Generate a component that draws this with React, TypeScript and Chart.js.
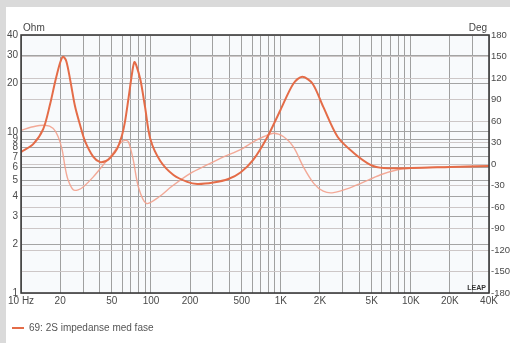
import React, { useEffect, useRef } from "react";
import { Chart, registerables } from "chart.js";
Chart.register(...registerables);

// Impedance magnitude (Hz, Ohm)
const impFreq = [10, 12.4, 14.8, 16.7, 18.3, 20, 21.1, 22.3, 23.9, 26, 28.5, 31, 36, 40.6, 45, 48.6, 55, 60, 63, 67, 72, 74.5, 77, 83, 90, 99, 118, 149, 190, 227, 302, 394, 489, 612, 787, 993, 1250, 1460, 1750, 2120, 2740, 3640, 4890, 6200, 10000, 20000, 40000];
const impOhm = [7.5, 8.4, 10.4, 14.8, 20.5, 27, 29.3, 27.5, 21, 14.5, 11, 8.8, 7.0, 6.5, 6.6, 6.9, 7.9, 9.6, 11.5, 16, 24, 27.2, 26, 21, 14.3, 9.0, 6.6, 5.4, 4.9, 4.75, 4.85, 5.1, 5.6, 6.7, 9.3, 13.7, 20, 22, 20, 14.3, 9.3, 7.4, 6.25, 5.97, 5.97, 6.06, 6.15];

// Phase (Hz, degrees)
const phaseFreq = [10, 12.4, 15.3, 17.6, 19.3, 20.7, 21.8, 23, 25.2, 27.5, 30.1, 36, 43, 51, 58, 63, 67, 73, 80, 92, 115, 145, 201, 272, 362, 489, 612, 735, 880, 1050, 1250, 1490, 1790, 2120, 2540, 3430, 4120, 5860, 7920, 10000, 20000, 40000];
const phaseDeg = [47, 52, 54, 50, 38, 20, -4, -22, -36, -36, -32, -18, -1, 15, 29, 33, 31, 6, -32, -55, -46, -31, -13, -1, 10, 20, 31, 38, 43, 38, 24, -4, -27, -38, -40, -33, -27, -15, -8, -6, -4, -3];

// Axis ticks
const ohmTicks = [1, 2, 3, 4, 5, 6, 7, 8, 9, 10, 20, 30, 40];
const degTicks = [-180, -150, -120, -90, -60, -30, 0, 30, 60, 90, 120, 150, 180];
const freqGrid = [10, 20, 30, 40, 50, 60, 70, 80, 90, 100, 200, 300, 400, 500, 600, 700, 800, 900, 1000, 2000, 3000, 4000, 5000, 6000, 7000, 8000, 9000, 10000, 20000, 30000, 40000];
const freqLabelValues = [10, 20, 50, 100, 200, 500, 1000, 2000, 5000, 10000, 20000, 40000];
const freqLabelTexts = ["10 Hz", "20", "50", "100", "200", "500", "1K", "2K", "5K", "10K", "20K", "40K"];

const legendText = "69: 2S impedanse med fase";
const FONT = '"Liberation Sans", Arial, sans-serif';

const decorPlugin = {
  id: "decor",
  beforeDraw(chart: any) {
    const { ctx, chartArea: a } = chart;
    ctx.save();
    ctx.fillStyle = "#f8fafc";
    ctx.fillRect(a.left, a.top, a.right - a.left, a.bottom - a.top);
    ctx.restore();
  },
  afterDraw(chart: any) {
    const { ctx, chartArea: a } = chart;
    ctx.save();
    ctx.strokeStyle = "#3a3a3a";
    ctx.lineWidth = 1.6;
    ctx.strokeRect(a.left, a.top, a.right - a.left, a.bottom - a.top);
    ctx.fillStyle = "#444";
    ctx.textBaseline = "middle";
    ctx.font = `10px ${FONT}`;
    ctx.textAlign = "left";
    ctx.fillText("Ohm", a.left + 2, a.top - 7);
    ctx.textAlign = "right";
    ctx.fillText("Deg", a.right - 2, a.top - 7);
    ctx.font = `bold 7px ${FONT}`;
    ctx.fillStyle = "#333";
    ctx.fillText("LEAP", a.right - 3, a.bottom - 5);
    ctx.restore();
  },
};

export default function App() {
  const ref = useRef<HTMLCanvasElement | null>(null);
  useEffect(() => {
    if (!ref.current) return;
    const chart = new Chart(ref.current, {
      type: "line",
      data: {
        datasets: [
          {
            label: legendText,
            data: impFreq.map((f, i) => ({ x: f, y: impOhm[i] })),
            borderColor: "rgb(228,108,72)",
            backgroundColor: "rgb(228,108,72)",
            borderWidth: 2,
            pointRadius: 0,
            tension: 0.3,
            yAxisID: "y",
          },
          {
            label: "phase",
            data: phaseFreq.map((f, i) => ({ x: f, y: phaseDeg[i] })),
            borderColor: "rgba(242,160,140,0.9)",
            backgroundColor: "rgba(242,160,140,0.9)",
            borderWidth: 1.4,
            pointRadius: 0,
            tension: 0.3,
            yAxisID: "y2",
          },
        ],
      },
      options: {
        animation: false,
        responsive: false,
        layout: { padding: { top: 28, left: 0, right: 0, bottom: 0 } },
        plugins: {
          tooltip: { enabled: false },
          legend: {
            position: "bottom",
            align: "start",
            labels: {
              filter: (item: any) => item.datasetIndex === 0,
              usePointStyle: true,
              pointStyle: "line",
              pointStyleWidth: 12,
              padding: 6,
              color: "#555",
              font: { size: 10, family: FONT },
            },
          },
        },
        scales: {
          x: {
            type: "logarithmic",
            min: 10,
            max: 40000,
            afterBuildTicks: (s: any) => {
              s.ticks = freqGrid.map((v) => ({ value: v }));
            },
            afterFit: (s: any) => {
              s.height = 24;
            },
            ticks: {
              autoSkip: false,
              maxRotation: 0,
              minRotation: 0,
              padding: 2,
              color: "#4a4a4a",
              font: { size: 10, family: FONT },
              callback: (v: any) => {
                const idx = freqLabelValues.indexOf(Number(v));
                return idx >= 0 ? freqLabelTexts[idx] : "";
              },
            },
            grid: { color: "#a0a0a0", lineWidth: 1, drawTicks: false },
            border: { display: false },
          },
          y: {
            type: "logarithmic",
            position: "left",
            min: 1,
            max: 40,
            afterBuildTicks: (s: any) => {
              s.ticks = ohmTicks.map((v) => ({ value: v }));
            },
            afterFit: (s: any) => {
              s.width = 15;
            },
            ticks: {
              autoSkip: false,
              padding: 3,
              color: "#4a4a4a",
              font: { size: 10, family: FONT },
              callback: (v: any) => String(v),
            },
            grid: { color: "#a4a4a4", lineWidth: 1, drawTicks: false },
            border: { display: false },
          },
          y2: {
            type: "linear",
            position: "right",
            min: -180,
            max: 180,
            afterBuildTicks: (s: any) => {
              s.ticks = degTicks.map((v) => ({ value: v }));
            },
            afterFit: (s: any) => {
              s.width = 21;
            },
            ticks: {
              autoSkip: false,
              padding: 2,
              color: "#4a4a4a",
              font: { size: 9.5, family: FONT },
              callback: (v: any) => String(v),
            },
            grid: { color: "#cdc7c7", lineWidth: 1, drawTicks: false },
            border: { display: false },
          },
        },
      },
      plugins: [decorPlugin],
    } as any);
    return () => chart.destroy();
  }, []);

  return (
    <div
      style={{
        position: "fixed",
        left: 0,
        top: 0,
        width: 510,
        height: 343,
        background: "#dadada",
        overflow: "hidden",
      }}
    >
      <canvas
        ref={ref}
        width={504}
        height={336}
        style={{ position: "absolute", left: 6, top: 7, width: 504, height: 336, background: "#ffffff" }}
      />
    </div>
  );
}
